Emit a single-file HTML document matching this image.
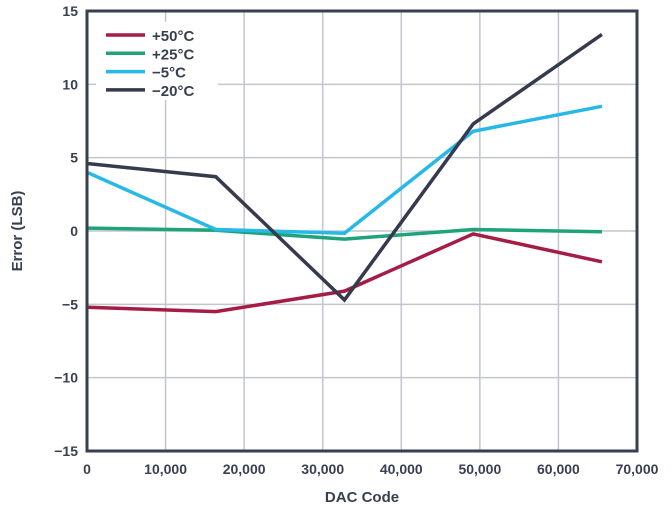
<!DOCTYPE html>
<html><head><meta charset="utf-8"><style>
body{margin:0;background:#fff;}
svg{display:block;font-family:"Liberation Sans",sans-serif;font-weight:bold;}
</style></head><body>
<svg id="chart" width="671" height="512">
<g id="grid"></g>
<g id="series"></g>
<rect x="87" y="11" width="550" height="440" fill="none" stroke="#3a3f50" stroke-width="3"/>
<g id="ticks"></g>
<text x="362" y="502" text-anchor="middle" font-size="15" fill="#3a3f50">DAC Code</text>
<text transform="translate(22,231) rotate(-90)" text-anchor="middle" font-size="15" fill="#3a3f50">Error (LSB)</text>
<g id="legend"></g>
</svg>
<script>
const xTicks=[0,10000,20000,30000,40000,50000,60000,70000];
const xTickLabels=["0","10,000","20,000","30,000","40,000","50,000","60,000","70,000"];
const yTicks=[-15,-10,-5,0,5,10,15];
const yTickLabels=["\u221215","\u221210","\u22125","0","5","10","15"];
const codes=[0,16384,32768,49152,65535];
const seriesNames=["+50\u00b0C","+25\u00b0C","\u22125\u00b0C","\u221220\u00b0C"];
const seriesColors=["#a51c45","#1fa37a","#26b8e6","#363a4d"];
const s50=[-5.2,-5.5,-4.1,-0.2,-2.1];
const s25=[0.2,0.05,-0.55,0.1,-0.05];
const sm5=[4.0,0.1,-0.15,6.8,8.5];
const sm20=[4.6,3.7,-4.7,7.3,13.4];
const seriesData=[s50,s25,sm5,sm20];
const NS="http://www.w3.org/2000/svg";
const X=v=>87+v/70000*550;
const Y=v=>231-v/5*73.33;
function mk(tag,attrs,parent){const e=document.createElementNS(NS,tag);for(const k in attrs)e.setAttribute(k,attrs[k]);parent.appendChild(e);return e;}
const grid=document.getElementById('grid'),ticks=document.getElementById('ticks'),ser=document.getElementById('series'),leg=document.getElementById('legend');
xTicks.forEach((t,i)=>{
 const l=mk('line',{x1:X(t),x2:X(t),y1:11,y2:451,stroke:'#c3c5cf','stroke-width':1.5},grid);
 
 
 const tx=mk('text',{x:X(t),y:474,'text-anchor':'middle','font-size':14,fill:'#3a3f50'},ticks);
 tx.textContent=xTickLabels[i];
 
 
});
yTicks.forEach((t,i)=>{
 const l=mk('line',{x1:87,x2:637,y1:Y(t),y2:Y(t),stroke:'#c3c5cf','stroke-width':1.5},grid);
 
 
 const tx=mk('text',{x:78,y:Y(t)+5,'text-anchor':'end','font-size':14,fill:'#3a3f50'},ticks);
 tx.textContent=yTickLabels[i];
 
 
});
seriesData.forEach((d,i)=>{
 const p=mk('polyline',{points:d.map((v,j)=>X(codes[j])+','+Y(v)).join(' '),fill:'none',stroke:seriesColors[i],'stroke-width':3.5,'stroke-linejoin':'miter'},ser);
 
 
});
const bg=mk('rect',{x:96,y:22,width:122,height:78,fill:'#fff'},leg);


seriesNames.forEach((n,i)=>{
 const y=35+i*18.3;
 const l=mk('line',{x1:106,x2:145,y1:y,y2:y,stroke:seriesColors[i],'stroke-width':3.5},leg);
 
 
 const t=mk('text',{x:152,y:y+6,'font-size':15,fill:'#3a3f50'},leg);
 t.textContent=n;
 
 
});
</script>
</body></html>
